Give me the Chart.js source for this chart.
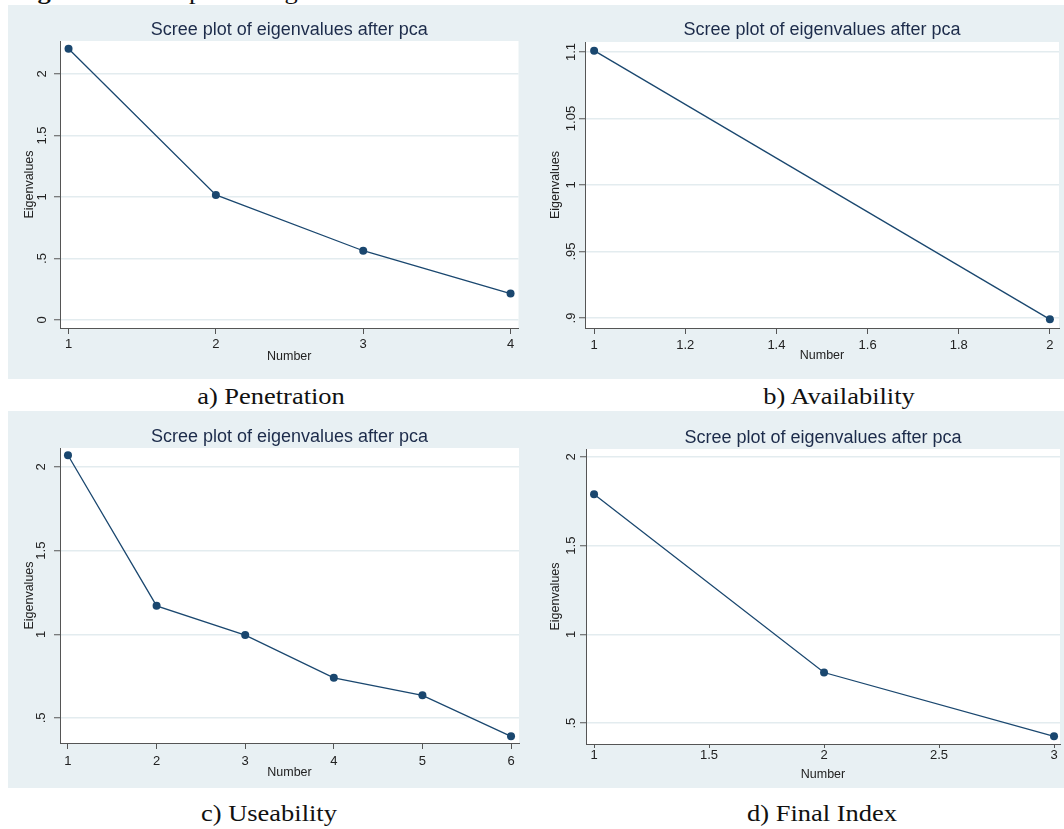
<!DOCTYPE html>
<html>
<head>
<meta charset="utf-8">
<script src="https://cdn.jsdelivr.net/npm/chart.js@4.4.1/dist/chart.umd.min.js"></script>
<style>
  body { margin:0; background:#fff; width:1064px; height:829px; position:relative; overflow:hidden; }
  .panel { position:absolute; background:#e8f0f3; }
  .panel canvas { display:block; }
  .cap { position:absolute; font-family:"Liberation Serif", serif; font-size:23px; line-height:23px; color:#111;
         white-space:nowrap; transform:translateX(-50%) scaleX(1.15); }
  .fig { position:absolute; font-family:"Liberation Serif", serif; font-size:23px; line-height:23px; color:#111;
         white-space:nowrap; transform-origin:0 0; transform:scaleX(1.15); }
</style>
</head>
<body>
<div class="fig" style="left:14px; top:-20px"><b>Figure 3:</b> Scree plot of eigenvalues</div>

<div class="panel" style="left:8px; top:5px; width:524px; height:374px"><canvas id="chartA" width="524" height="374"></canvas></div>
<div class="panel" style="left:532px; top:5px; width:532px; height:374px"><canvas id="chartB" width="532" height="374"></canvas></div>
<div class="panel" style="left:8px; top:411px; width:524px; height:377px"><canvas id="chartC" width="524" height="377"></canvas></div>
<div class="panel" style="left:532px; top:411px; width:532px; height:377px"><canvas id="chartD" width="532" height="377"></canvas></div>

<div class="cap" style="left:271px; top:385px">a) Penetration</div>
<div class="cap" style="left:839px; top:385px">b) Availability</div>
<div class="cap" style="left:269px; top:802px">c) Useability</div>
<div class="cap" style="left:822px; top:802px">d) Final Index</div>

<script>
// a) Penetration
const penNumber = [1, 2, 3, 4];
const penEigen = [2.205, 1.017, 0.563, 0.215];
const penXTicks = [1, 2, 3, 4];
const penYTicks = [0, 0.5, 1, 1.5, 2];

// b) Availability
const avaNumber = [1, 2];
const avaEigen = [1.101, 0.899];
const avaXTicks = [1, 1.2, 1.4, 1.6, 1.8, 2];
const avaYTicks = [0.9, 0.95, 1, 1.05, 1.1];

// c) Useability
const useNumber = [1, 2, 3, 4, 5, 6];
const useEigen = [2.07, 1.17, 0.995, 0.74, 0.635, 0.39];
const useXTicks = [1, 2, 3, 4, 5, 6];
const useYTicks = [0.5, 1, 1.5, 2];

// d) Final Index
const finNumber = [1, 2, 3];
const finEigen = [1.79, 0.785, 0.425];
const finXTicks = [1, 1.5, 2, 2.5, 3];
const finYTicks = [0.5, 1, 1.5, 2];

const titleText = 'Scree plot of eigenvalues after pca';
const navy = '#1a476f';
const axisCol = '#555';
const txtCol = '#222';
const fontFam = '"Liberation Sans", Arial, sans-serif';

// stata style: .5 instead of 0.5
function fmt(v) {
  const s = String(Math.round(v * 1000) / 1000);
  return s.replace(/^0\./, '.');
}

// white plot region
const plotBg = {
  id: 'plotBg',
  beforeDraw(chart) {
    const a = chart.chartArea, ctx = chart.ctx;
    ctx.save();
    ctx.fillStyle = '#fff';
    ctx.fillRect(a.left, a.top, a.right - a.left, a.bottom - a.top);
    ctx.restore();
  }
};

// vertical y tick labels
const yLabels = {
  id: 'yLabels',
  afterDraw(chart, args, opts) {
    const ctx = chart.ctx, y = chart.scales.y;
    ctx.save();
    ctx.font = '13px ' + fontFam;
    ctx.fillStyle = txtCol;
    ctx.textAlign = 'center';
    ctx.textBaseline = 'middle';
    y.ticks.forEach(t => {
      ctx.save();
      ctx.translate(chart.chartArea.left - opts.gap, y.getPixelForValue(t.value));
      ctx.rotate(-Math.PI / 2);
      ctx.fillText(fmt(t.value), 0, 0);
      ctx.restore();
    });
    ctx.restore();
  }
};

function scree(id, xs, ys, xTicks, yTicks, g) {
  const canvas = document.getElementById(id);
  return new Chart(canvas, {
    type: 'line',
    data: {
      datasets: [{
        data: xs.map((x, i) => ({ x: x, y: ys[i] })),
        borderColor: navy,
        borderWidth: 1.3,
        pointRadius: 4,
        pointBackgroundColor: navy,
        pointBorderColor: navy,
        pointBorderWidth: 0,
        tension: 0
      }]
    },
    options: {
      responsive: false,
      animation: false,
      events: [],
      devicePixelRatio: 1,
      layout: { padding: { left: 0, top: 0, bottom: 0, right: canvas.width - g.right } },
      plugins: {
        legend: { display: false },
        tooltip: { enabled: false },
        title: {
          display: true,
          text: titleText,
          fullSize: false,
          color: '#1c2b4a',
          font: { family: fontFam, size: 18, weight: 'normal', lineHeight: 1.2 },
          padding: g.titlePad
        },
        yLabels: { gap: g.yGap }
      },
      scales: {
        x: {
          type: 'linear',
          min: g.xMin,
          max: g.xMax,
          afterBuildTicks: s => { s.ticks = xTicks.map(v => ({ value: v })); },
          afterFit: s => { s.height = canvas.height - g.bottom; },
          ticks: {
            autoSkip: false, maxRotation: 0, minRotation: 0,
            color: txtCol,
            font: { family: fontFam, size: 13, lineHeight: 1.2 },
            padding: g.xTickPad,
            callback: v => fmt(v)
          },
          grid: { drawOnChartArea: false, drawTicks: true, tickLength: g.xTickLen, tickColor: axisCol, tickWidth: 1 },
          border: { display: true, color: axisCol, width: 1 },
          title: {
            display: true, text: 'Number', color: txtCol,
            font: { family: fontFam, size: 12.5, lineHeight: 1.2 },
            padding: { top: 0, bottom: g.xTitlePad }
          }
        },
        y: {
          type: 'linear',
          min: g.yMin,
          max: g.yMax,
          afterBuildTicks: s => { s.ticks = yTicks.map(v => ({ value: v })); },
          afterFit: s => { s.width = g.left; },
          ticks: { display: false },
          grid: { color: '#e3ecef', lineWidth: 1.5, drawTicks: true, tickLength: 6, tickColor: axisCol, tickWidth: 1 },
          border: { display: true, color: axisCol, width: 1 },
          title: {
            display: true, text: 'Eigenvalues', color: txtCol,
            font: { family: fontFam, size: 12.5, lineHeight: 1.2 },
            padding: { top: g.yTitlePad, bottom: 0 }
          }
        }
      }
    },
    plugins: [plotBg, yLabels]
  });
}

document.addEventListener('DOMContentLoaded', function () {
  scree('chartA', penNumber, penEigen, penXTicks, penYTicks, {
    left: 52, right: 510.5, bottom: 323,
    xMin: 0.942, xMax: 4.054, yMin: -0.065, yMax: 2.268,
    titlePad: { top: 14.2, bottom: 0.2 }, yTitlePad: 13.7, yGap: 17.3,
    xTickLen: 6, xTickPad: 2.2, xTitlePad: 14.5
  });
  scree('chartB', avaNumber, avaEigen, avaXTicks, avaYTicks, {
    left: 53, right: 527, bottom: 323,
    xMin: 0.98, xMax: 2.02, yMin: 0.8925, yMax: 1.1075,
    titlePad: { top: 14.2, bottom: 1.2 }, yTitlePad: 16, yGap: 14,
    xTickLen: 6, xTickPad: 3.2, xTitlePad: 15.5
  });
  scree('chartC', useNumber, useEigen, useXTicks, useYTicks, {
    left: 52, right: 511, bottom: 332,
    xMin: 0.91, xMax: 6.09, yMin: 0.35, yMax: 2.1136,
    titlePad: { top: 14.9, bottom: 0.5 }, yTitlePad: 13.7, yGap: 18.3,
    xTickLen: 6, xTickPad: 4.9, xTitlePad: 7.5
  });
  scree('chartD', finNumber, finEigen, finXTicks, finYTicks, {
    left: 54, right: 528, bottom: 333,
    xMin: 0.965, xMax: 3.026, yMin: 0.382, yMax: 2.045,
    titlePad: { top: 15.9, bottom: 0.5 }, yTitlePad: 16.5, yGap: 14.3,
    xTickLen: 4, xTickPad: -0.5, xTitlePad: 6
  });
});
</script>
</body>
</html>
